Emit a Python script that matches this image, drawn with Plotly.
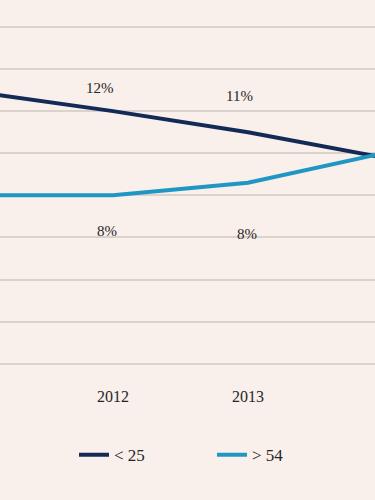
import plotly.graph_objects as go

years = [2011, 2012, 2013, 2014]
under25 = [12.9, 12.0, 11.0, 9.8]
over54 = [8.0, 8.0, 8.6, 10.0]
under25_labels = ["13%", "12%", "11%", "10%"]
over54_labels = ["8%", "8%", "8%", "10%"]
series_names = ["< 25", "> 54"]

dark = "#142a56"
teal = "#1f97c4"
bg = "#f9efeb"
grid = "#dcd2cd"
txt = "#262626"
font = "Liberation Serif"

fig = go.Figure()
fig.add_trace(go.Scatter(x=years, y=under25, mode="lines", name=series_names[0],
                         line=dict(color=dark, width=4), cliponaxis=False))
fig.add_trace(go.Scatter(x=years, y=over54, mode="lines", name=series_names[1],
                         line=dict(color=teal, width=4), cliponaxis=False))

dark_shift = [(-12, 24), (-13, 23), (-8, 36), (-10, 30)]
teal_shift = [(-6, -38), (-6, -36), (-1, -51), (-4, -45)]
for xv, yv, t, (dx, dy) in zip(years, under25, under25_labels, dark_shift):
    fig.add_annotation(x=xv, y=yv, text=t, showarrow=False, xshift=dx, yshift=dy,
                       font=dict(family=font, size=15, color=txt))
for xv, yv, t, (dx, dy) in zip(years, over54, over54_labels, teal_shift):
    fig.add_annotation(x=xv, y=yv, text=t, showarrow=False, xshift=dx, yshift=dy,
                       font=dict(family=font, size=15, color=txt))

fig.update_layout(
    width=375, height=500,
    margin=dict(l=0, r=0, t=0, b=135),
    paper_bgcolor=bg, plot_bgcolor=bg,
    showlegend=True,
    legend=dict(orientation="h", x=74 / 375, xanchor="left", y=-0.247, yanchor="middle",
                font=dict(family=font, size=17, color=txt),
                bgcolor="rgba(0,0,0,0)", itemwidth=30, entrywidth=93, entrywidthmode="pixels"),
    font=dict(family=font, size=15, color=txt),
)
fig.update_xaxes(range=[2011.163, 2013.941], tickmode="array", tickvals=years,
                 ticktext=[str(y) for y in years], showgrid=False, zeroline=False,
                 showline=False, ticks="", ticklabelstandoff=20,
                 tickfont=dict(family=font, size=16, color=txt))
fig.update_yaxes(range=[-0.06, 17.28], tickvals=list(range(0, 17, 2)), showticklabels=False,
                 showgrid=True, gridcolor=grid, gridwidth=2, zeroline=False, showline=False)

fig.write_html("out.html", config={"displayModeBar": False},
               post_script="document.body.style.margin='0';document.body.style.background='%s';" % bg)
